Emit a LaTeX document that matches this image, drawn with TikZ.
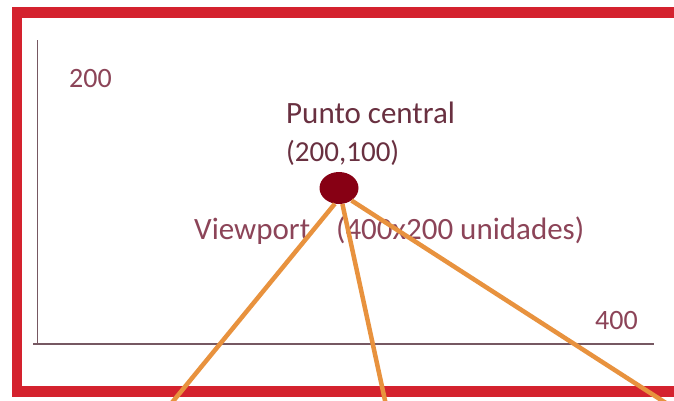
\documentclass[tikz,border=0pt]{standalone}
\usepackage{fontspec}
\setmainfont{Carlito}
\usepackage{tikz}
\usetikzlibrary{shapes.geometric}

\definecolor{framered}{RGB}{212,34,46}
\definecolor{axisgray}{RGB}{118,88,98}
\definecolor{labeltext}{RGB}{140,68,88}
\definecolor{darktext}{RGB}{105,48,64}
\definecolor{dotred}{RGB}{135,0,20}
\definecolor{rayorange}{RGB}{232,146,62}

\tikzset{
  label/.style={inner sep=0pt, text=labeltext, font=\fontsize{28}{34}\selectfont},
  bigLabel/.style={label, font=\fontsize{31}{36}\selectfont},
  ray/.style={draw=rayorange, line width=4.5pt},
}

\begin{document}
\begin{tikzpicture}[x=1pt,y=1pt,yscale=-1]
\clip (0,0) rectangle (674,400);
\fill[white] (0,0) rectangle (674,400);

%Shape: Frame
\draw [framered, line width=10.5pt] (17,12.5) rectangle (679,391.5);

%Shape: Axis 2D
\draw [axisgray, line width=1.5pt] (37.5,40) -- (37.5,344) ;
\draw [axisgray, line width=1.5pt] (33,344) -- (654,344) ;

% Text Node
\node (ylab) [label, anchor=base west] at (69,87) {200};
% Text Node
\node (xlab) [label, anchor=base west] at (595,329) {400};
% Text Node
\node (titulo) [bigLabel, text=darktext, anchor=base west] at (286,123) {Punto central};
% Text Node
\node (coords) [label, font=\fontsize{29}{34}\selectfont, text=darktext, anchor=base west] at (286,161) {(200,100)};
% Text Node
\node (vista) [bigLabel, anchor=base west] at (194,239) {Viewport\hspace{26pt}(400x200 unidades)};

%Shape: Circle
\node (centro) [ellipse, fill=dotred, minimum width=39pt, minimum height=32pt, inner sep=0pt] at (339,188) {};

%Straight Lines
\coordinate (finA) at (170,405);
\coordinate (finB) at (386,405);
\coordinate (finC) at (669,405);
\draw [ray] (centro.255) -- (finA) ;
\draw [ray] (centro.282) -- (finB) ;
\draw [ray] (centro.315) -- (finC) ;

\end{tikzpicture}
\end{document}
